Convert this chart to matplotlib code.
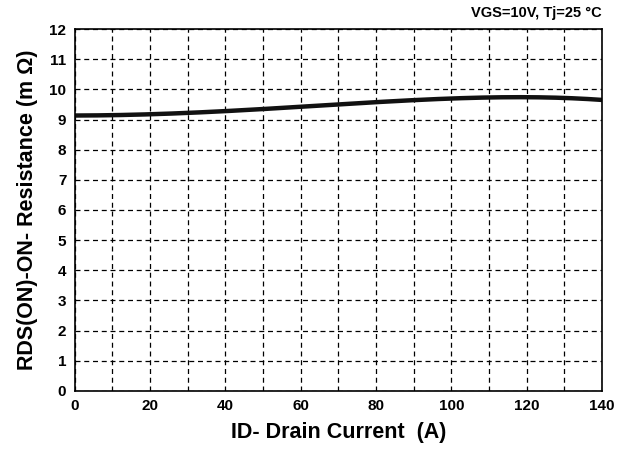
import matplotlib
matplotlib.use("Agg")
import matplotlib.pyplot as plt
import numpy as np

plt.rcParams['font.family'] = ['Liberation Sans', 'DejaVu Sans']
plt.rcParams['font.weight'] = 'bold'

# Data
drain_current = [0, 10, 20, 30, 40, 50, 60, 70, 80, 90, 100, 110, 120, 130, 140]
rds_on = [9.13, 9.15, 9.17, 9.22, 9.28, 9.35, 9.42, 9.49, 9.58, 9.65, 9.70, 9.73, 9.73, 9.72, 9.65]
x_ticks = [0, 20, 40, 60, 80, 100, 120, 140]
y_ticks = list(range(0, 13))

fig = plt.figure(figsize=(6.33, 4.54), dpi=100)
ax = fig.add_axes([0.118, 0.139, 0.833, 0.797])

# smooth curve through read points
xs = np.linspace(0, 140, 300)
coef = np.polyfit(drain_current, rds_on, 4)
ax.plot(xs, np.polyval(coef, xs), color='#111111', lw=3.2, solid_capstyle='butt')

ax.set_xlim(0, 140)
ax.set_ylim(0, 12)
ax.set_xticks(x_ticks)
ax.set_yticks(y_ticks)
ax.set_xticks(range(0, 141, 10), minor=True)
ax.grid(True, which='both', axis='x', color='black', linestyle=(0, (4, 3)), lw=0.9)
ax.grid(True, which='major', axis='y', color='black', linestyle=(0, (4, 3)), lw=0.9)
ax.tick_params(axis='both', which='both', length=0, labelsize=11, pad=6)
for lbl in ax.get_xticklabels() + ax.get_yticklabels():
    lbl.set_fontweight('bold')
for s in ax.spines.values():
    s.set_linewidth(1.2)

ax.set_xlabel('ID- Drain Current  (A)', fontsize=15.5, fontweight='bold', labelpad=6)
ax.set_ylabel('RDS(ON)-ON- Resistance (m \u03a9)', fontsize=15.5, fontweight='bold', labelpad=8)
ax.text(1.0, 1.025, 'VGS=10V, Tj=25 \u00b0C', transform=ax.transAxes, ha='right', va='bottom',
        fontsize=10.5, fontweight='bold')

fig.savefig('out.png', dpi=100)
